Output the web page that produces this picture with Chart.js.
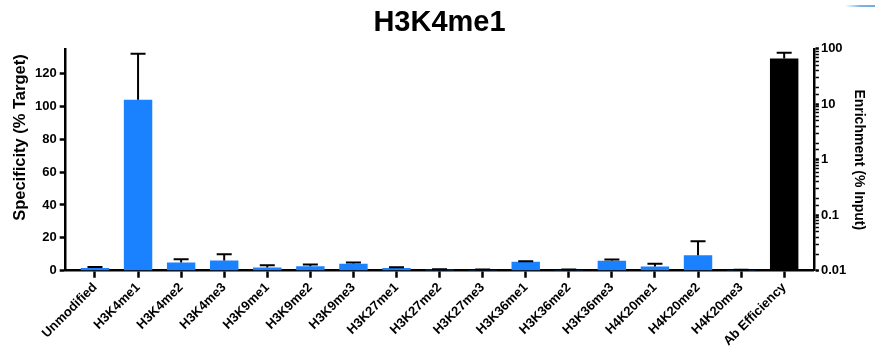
<!DOCTYPE html>
<html>
<head>
<meta charset="utf-8">
<script src="https://cdn.jsdelivr.net/npm/chart.js@4/dist/chart.umd.min.js"></script>
<style>
  html, body { margin: 0; padding: 0; background: #fff; }
  #wrap { width: 875px; height: 360px; }
</style>
</head>
<body>
<div id="wrap"><canvas id="c" width="875" height="360"></canvas></div>
<script>
// Histone peptide categories along the x axis
const categories = ['Unmodified', 'H3K4me1', 'H3K4me2', 'H3K4me3', 'H3K9me1', 'H3K9me2',
  'H3K9me3', 'H3K27me1', 'H3K27me2', 'H3K27me3', 'H3K36me1', 'H3K36me2', 'H3K36me3',
  'H4K20me1', 'H4K20me2', 'H4K20me3', 'Ab Efficiency'];

// Specificity (% Target), mean and upper error
const specificity = [1.6, 104, 5.0, 6.2, 2.0, 2.7, 4.3, 1.7, 0.6, 0.4, 5.4, 0.4, 6.0, 2.6, 9.4, 0.2, null];
const specificityErr = [0.6, 28, 2.0, 3.8, 1.3, 1.1, 0.7, 0.4, 0.3, 0.4, 0.4, 0.4, 0.9, 1.7, 8.6, 0.4, null];

// Enrichment (% Input) for antibody efficiency, log axis
const enrichment = [null, null, null, null, null, null, null, null, null, null, null, null, null, null, null, null, 67];
const enrichmentErr = [null, null, null, null, null, null, null, null, null, null, null, null, null, null, null, null, 18];

// Tick labels
const specificityTicks = [0, 20, 40, 60, 80, 100, 120];
const logTickLabels = [0.01, 0.1, 1, 10, 100];

const FONT = '"Liberation Sans", Arial, Helvetica, sans-serif';
const LEFT_TITLE = 'Specificity (% Target)';

const toPoints = (vals) => vals.map((v, i) => ({ x: i, y: v }));
const isDecade = (v) => logTickLabels.some(t => Math.abs(t - v) / t < 1e-6);

// Upper error bars with caps, drawn through each dataset's own value scale
const errorBars = {
  id: 'errorBars',
  afterDatasetsDraw(chart) {
    const ctx = chart.ctx;
    chart.data.datasets.forEach((ds, di) => {
      const meta = chart.getDatasetMeta(di);
      const scale = chart.scales[ds.yAxisID];
      ds.errors.forEach((err, i) => {
        const v = ds.data[i].y;
        if (v == null || err == null) return;
        const bar = meta.data[i];
        const yTop = scale.getPixelForValue(v + err);
        const yBase = scale.getPixelForValue(v);
        ctx.save();
        ctx.strokeStyle = '#000';
        ctx.lineWidth = 2;
        ctx.beginPath();
        ctx.moveTo(bar.x, yBase);
        ctx.lineTo(bar.x, yTop);
        ctx.moveTo(bar.x - 7.5, yTop);
        ctx.lineTo(bar.x + 7.5, yTop);
        ctx.stroke();
        ctx.restore();
      });
    });
  }
};

// Left axis title, set a little above the axis midpoint
const leftTitle = {
  id: 'leftTitle',
  afterDraw(chart) {
    const ctx = chart.ctx;
    const s = chart.scales.y;
    const cy = s.getPixelForValue(s.max * 0.6);
    ctx.save();
    ctx.translate(20, cy);
    ctx.rotate(-Math.PI / 2);
    ctx.fillStyle = '#000';
    ctx.font = 'bold 16.5px ' + FONT;
    ctx.textAlign = 'center';
    ctx.textBaseline = 'middle';
    ctx.fillText(LEFT_TITLE, 0, 0);
    ctx.restore();
  }
};

// Small blue stroke in the top-right corner
const cornerMark = {
  id: 'cornerMark',
  afterDraw(chart) {
    const ctx = chart.ctx;
    const g = ctx.createLinearGradient(845, 0, 875, 0);
    g.addColorStop(0, 'rgba(40,130,220,0)');
    g.addColorStop(0.5, 'rgba(40,130,220,0.8)');
    g.addColorStop(1, 'rgba(40,130,220,0.9)');
    ctx.save();
    ctx.strokeStyle = g;
    ctx.lineWidth = 1.5;
    ctx.beginPath();
    ctx.moveTo(845, 6);
    ctx.lineTo(875, 6);
    ctx.stroke();
    ctx.restore();
  }
};

new Chart(document.getElementById('c'), {
  type: 'bar',
  data: {
    datasets: [
      {
        label: 'Specificity',
        data: toPoints(specificity),
        errors: specificityErr,
        yAxisID: 'y',
        backgroundColor: '#1a82ff',
        borderWidth: 0
      },
      {
        label: 'Enrichment',
        data: toPoints(enrichment),
        errors: enrichmentErr,
        yAxisID: 'y2',
        backgroundColor: '#000',
        borderWidth: 0
      }
    ]
  },
  options: {
    responsive: false,
    animation: false,
    grouped: false,
    categoryPercentage: 1,
    barPercentage: 0.66,
    layout: { padding: { left: 6, right: 2, top: 0, bottom: 9 } },
    plugins: {
      legend: { display: false },
      tooltip: { enabled: false },
      title: {
        display: true,
        text: 'H3K4me1',
        color: '#000',
        font: { family: FONT, size: 29, weight: 'bold' },
        padding: { top: 6, bottom: 8 }
      }
    },
    scales: {
      x: {
        type: 'linear',
        offset: false,
        min: -0.68,
        max: 16.69,
        afterBuildTicks(axis) {
          axis.ticks = categories.map((_, i) => ({ value: i }));
        },
        ticks: {
          autoSkip: false,
          minRotation: 45,
          maxRotation: 45,
          padding: 2,
          color: '#000',
          font: { family: FONT, size: 13, weight: 'bold' },
          callback: (v) => categories[v]
        },
        grid: { offset: false, drawOnChartArea: false, drawTicks: true, tickLength: 7, tickWidth: 2.5, color: '#000' },
        border: { display: true, color: '#000', width: 2.5 }
      },
      y: {
        type: 'linear',
        position: 'left',
        min: 0,
        max: 135,
        afterBuildTicks(axis) {
          axis.ticks = specificityTicks.map(v => ({ value: v }));
        },
        // room for the rotated title drawn by the leftTitle plugin
        afterFit(axis) {
          axis.width += 26;
        },
        ticks: {
          padding: 3,
          color: '#000',
          font: { family: FONT, size: 13, weight: 'bold' }
        },
        title: { display: false },
        grid: { drawOnChartArea: false, drawTicks: true, tickLength: 6, tickWidth: 2.5, color: '#000' },
        border: { display: true, color: '#000', width: 2.5 }
      },
      y2: {
        type: 'logarithmic',
        position: 'right',
        min: 0.01,
        max: 100,
        ticks: {
          autoSkip: false,
          padding: 2,
          color: '#000',
          font: { family: FONT, size: 13, weight: 'bold' },
          callback: (v) => {
            const hit = logTickLabels.find(t => Math.abs(t - v) / t < 1e-6);
            return hit === undefined ? '' : String(hit);
          }
        },
        title: {
          display: true,
          text: 'Enrichment (% Input)',
          color: '#000',
          font: { family: FONT, size: 14, weight: 'bold' },
          padding: { top: 6, bottom: 2 }
        },
        grid: {
          drawOnChartArea: false,
          drawTicks: true,
          tickLength: 5,
          color: '#000',
          tickWidth: (c) => (c.tick && isDecade(c.tick.value)) ? 2.5 : 1.5
        },
        border: { display: true, color: '#000', width: 2.5 }
      }
    }
  },
  plugins: [errorBars, leftTitle, cornerMark]
});
</script>
</body>
</html>
